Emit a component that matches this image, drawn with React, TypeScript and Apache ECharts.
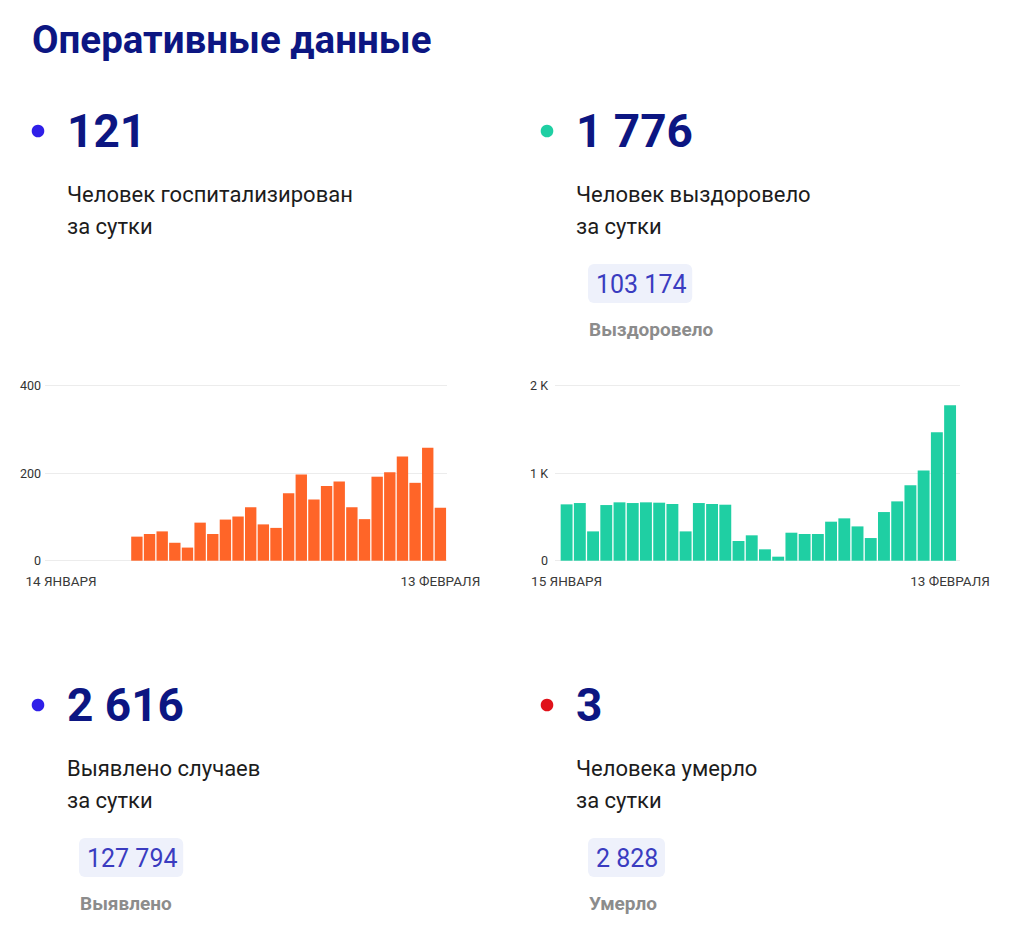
import React, { useEffect, useRef } from "react";
import * as echarts from "echarts";

// ---- data ----
const hospDates = [
  "14 ЯНВАРЯ", "15 ЯНВАРЯ", "16 ЯНВАРЯ", "17 ЯНВАРЯ", "18 ЯНВАРЯ", "19 ЯНВАРЯ", "20 ЯНВАРЯ",
  "21 ЯНВАРЯ", "22 ЯНВАРЯ", "23 ЯНВАРЯ", "24 ЯНВАРЯ", "25 ЯНВАРЯ", "26 ЯНВАРЯ", "27 ЯНВАРЯ",
  "28 ЯНВАРЯ", "29 ЯНВАРЯ", "30 ЯНВАРЯ", "31 ЯНВАРЯ", "1 ФЕВРАЛЯ", "2 ФЕВРАЛЯ", "3 ФЕВРАЛЯ",
  "4 ФЕВРАЛЯ", "5 ФЕВРАЛЯ", "6 ФЕВРАЛЯ", "7 ФЕВРАЛЯ", "8 ФЕВРАЛЯ", "9 ФЕВРАЛЯ", "10 ФЕВРАЛЯ",
  "11 ФЕВРАЛЯ", "12 ФЕВРАЛЯ", "13 ФЕВРАЛЯ",
];
const hospValues = [
  null, null, null, null, null, null,
  55, 61, 67, 41, 30, 87, 61, 94, 101, 122, 83, 75, 154, 197, 140, 171, 181, 122, 95,
  192, 202, 238, 178, 258, 121,
];

const recDates = [
  "15 ЯНВАРЯ", "16 ЯНВАРЯ", "17 ЯНВАРЯ", "18 ЯНВАРЯ", "19 ЯНВАРЯ", "20 ЯНВАРЯ",
  "21 ЯНВАРЯ", "22 ЯНВАРЯ", "23 ЯНВАРЯ", "24 ЯНВАРЯ", "25 ЯНВАРЯ", "26 ЯНВАРЯ", "27 ЯНВАРЯ",
  "28 ЯНВАРЯ", "29 ЯНВАРЯ", "30 ЯНВАРЯ", "31 ЯНВАРЯ", "1 ФЕВРАЛЯ", "2 ФЕВРАЛЯ", "3 ФЕВРАЛЯ",
  "4 ФЕВРАЛЯ", "5 ФЕВРАЛЯ", "6 ФЕВРАЛЯ", "7 ФЕВРАЛЯ", "8 ФЕВРАЛЯ", "9 ФЕВРАЛЯ", "10 ФЕВРАЛЯ",
  "11 ФЕВРАЛЯ", "12 ФЕВРАЛЯ", "13 ФЕВРАЛЯ",
];
const recValues = [
  644, 659, 335, 636, 667, 659, 667, 663, 648, 335, 659, 648, 640, 225, 290, 130, 46,
  320, 305, 305, 446, 484, 392, 259, 556, 678, 861, 1032, 1467, 1776,
];

const title = "Оперативные данные";
const bigNumbers = ["121", "1 776", "2 616", "3"];
const captions = [
  ["Человек госпитализирован", "за сутки"],
  ["Человек выздоровело", "за сутки"],
  ["Выявлено случаев", "за сутки"],
  ["Человека умерло", "за сутки"],
];
const totals = [null, "103 174", "127 794", "2 828"];
const totalLabels = [null, "Выздоровело", "Выявлено", "Умерло"];

const FONT = "Roboto, 'Noto Sans', sans-serif";
const NAVY = "#0c1682";
const ORANGE = "#ff6528";
const TEAL = "#1fcfa3";

export default function App() {
  const ref = useRef<HTMLDivElement>(null);

  useEffect(() => {
    if (!ref.current) return;
    const chart = echarts.init(ref.current, null, { renderer: "svg" });

    const dotColors = ["#2f1fe8", TEAL, "#2f1fe8", "#e0121a"];
    const blocks = [
      { x: 67, y: 0 },
      { x: 576, y: 0 },
      { x: 67, y: 574 },
      { x: 576, y: 574 },
    ];
    const graphics: any[] = [
      {
        type: "text",
        x: 32,
        y: 39,
        style: {
          text: title,
          fontFamily: FONT,
          fontSize: 38.5,
          fontWeight: "bold",
          fill: NAVY,
          align: "left",
          verticalAlign: "middle",
        },
      },
    ];
    blocks.forEach((b, i) => {
      graphics.push({
        type: "circle",
        shape: { cx: b.x - 29, cy: 131 + b.y, r: 6.3 },
        style: { fill: dotColors[i] },
      });
      graphics.push({
        type: "text",
        x: b.x,
        y: 131 + b.y,
        style: {
          text: bigNumbers[i],
          fontFamily: FONT,
          fontSize: 46,
          fontWeight: "bold",
          fill: NAVY,
          align: "left",
          verticalAlign: "middle",
        },
      });
      captions[i].forEach((c, j) => {
        graphics.push({
          type: "text",
          x: b.x,
          y: 194 + j * 32.5 + b.y,
          style: {
            text: c,
            fontFamily: FONT,
            fontSize: 22,
            fill: "#1c1c1c",
            align: "left",
            verticalAlign: "middle",
          },
        });
      });
      if (totals[i]) {
        graphics.push({
          type: "rect",
          shape: { x: b.x + 12, y: 264 + b.y, width: (totals[i] as string).length * 13.6 + 9, height: 39, r: 6 },
          style: { fill: "#eef1fb" },
        });
        graphics.push({
          type: "text",
          x: b.x + 20,
          y: 284 + b.y,
          style: {
            text: totals[i],
            fontFamily: FONT,
            fontSize: 25,
            fill: "#3a3cc0",
            align: "left",
            verticalAlign: "middle",
          },
        });
        graphics.push({
          type: "text",
          x: b.x + 13,
          y: 329.5 + b.y,
          style: {
            text: totalLabels[i],
            fontFamily: FONT,
            fontSize: 19,
            fontWeight: "bold",
            fill: "#8c8c8c",
            align: "left",
            verticalAlign: "middle",
          },
        });
      }
    });

    const top = 385.7;
    const height = 175;
    const xLabel = (n: number) => ({
      interval: (i: number) => i === 0 || i === n - 1,
      color: "#3a3a3a",
      fontFamily: FONT,
      fontSize: 13.5,
      margin: 13,
      showMinLabel: true,
      showMaxLabel: true,
    });

    chart.setOption({
      animation: false,
      backgroundColor: "#ffffff",
      grid: [
        { left: 54.7, top, width: 392, height },
        { left: 560, top, width: 396.7, height },
        { left: 45, top, width: 402, height },
        { left: 555, top, width: 405, height },
      ],
      xAxis: [
        {
          type: "category",
          gridIndex: 0,
          data: hospDates,
          axisLine: { show: false },
          axisTick: { show: false },
          axisLabel: xLabel(hospDates.length),
        },
        {
          type: "category",
          gridIndex: 1,
          data: recDates,
          axisLine: { show: false },
          axisTick: { show: false },
          axisLabel: xLabel(recDates.length),
        },
        { type: "value", gridIndex: 2, min: 0, max: 1, show: false },
        { type: "value", gridIndex: 3, min: 0, max: 1, show: false },
      ],
      yAxis: [
        { type: "value", gridIndex: 0, min: 0, max: 400, show: false },
        { type: "value", gridIndex: 1, min: 0, max: 2000, show: false },
        {
          type: "value",
          gridIndex: 2,
          min: 0,
          max: 400,
          interval: 200,
          axisLine: { show: false },
          axisTick: { show: false },
          axisLabel: { color: "#333", fontFamily: FONT, fontSize: 12.5, margin: 4 },
          splitLine: { lineStyle: { color: "#ececec", width: 1 } },
        },
        {
          type: "value",
          gridIndex: 3,
          min: 0,
          max: 2000,
          interval: 1000,
          axisLine: { show: false },
          axisTick: { show: false },
          axisLabel: {
            color: "#333",
            fontFamily: FONT,
            fontSize: 12.5,
            margin: 7,
            formatter: (v: number) => (v === 0 ? "0" : v / 1000 + " K"),
          },
          splitLine: { lineStyle: { color: "#ececec", width: 1 } },
        },
      ],
      series: [
        {
          type: "bar",
          xAxisIndex: 0,
          yAxisIndex: 0,
          data: hospValues,
          barCategoryGap: "10%",
          itemStyle: { color: ORANGE },
          z: 3,
        },
        {
          type: "bar",
          xAxisIndex: 1,
          yAxisIndex: 1,
          data: recValues,
          barCategoryGap: "10%",
          itemStyle: { color: TEAL },
          z: 3,
        },
      ],
      graphic: graphics,
    });

    return () => chart.dispose();
  }, []);

  return (
    <div
      ref={ref}
      style={{ position: "absolute", left: 0, top: 0, width: 1024, height: 928, background: "#fff" }}
    />
  );
}
